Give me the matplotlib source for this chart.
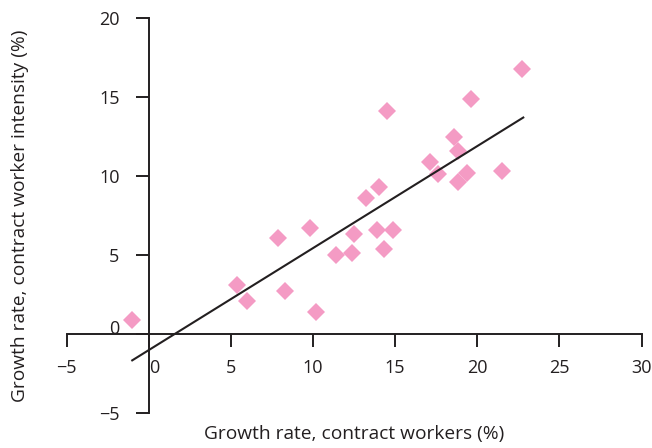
import numpy as np
import matplotlib.pyplot as plt

plt.rcParams['font.family'] = ['Open Sans', 'DejaVu Sans']

# growth rate, contract workers (%)
x_workers = [-1.0, 5.4, 6.0, 7.9, 8.3, 9.8, 10.2, 11.4, 12.4, 12.5, 13.2, 14.0,
             13.9, 14.3, 14.5, 14.9, 17.1, 17.6, 18.6, 18.8, 18.8, 19.4, 19.6,
             21.5, 22.7]
# growth rate, contract worker intensity (%)
y_intensity = [0.9, 3.1, 2.1, 6.1, 2.7, 6.7, 1.4, 5.0, 5.1, 6.3, 8.6, 9.3,
               6.6, 5.4, 14.1, 6.6, 10.9, 10.1, 12.5, 11.6, 9.6, 10.2, 14.9,
               10.3, 16.8]

# fitted line
fit_slope = 0.647
fit_intercept = -1.04
fit_x = [-1.0, 22.8]

x_ticks = [-5, 0, 5, 10, 15, 20, 25, 30]
y_ticks = [-5, 0, 5, 10, 15, 20]

ink = '#231f20'

fig = plt.figure(figsize=(6.52, 4.48), dpi=100)
ax = fig.add_axes([0.102, 0.079, 0.882, 0.880])

ax.plot(x_workers, y_intensity, 'D', color='#f49bc4', markersize=9.2,
        markeredgewidth=0, zorder=2)
fx = np.array(fit_x)
ax.plot(fx, fit_slope * fx + fit_intercept, color=ink, lw=1.5, zorder=3)

ax.set_xlim(-5, 30)
ax.set_ylim(-5, 20)
ax.set_xticks(x_ticks)
ax.set_yticks(y_ticks)
ax.set_xticklabels(['\u22125' if t < 0 else str(t) for t in x_ticks])
ax.set_yticklabels(['\u22125' if t < 0 else str(t) for t in y_ticks])

for s in ['top', 'right']:
    ax.spines[s].set_visible(False)
ax.spines['left'].set_position(('data', 0))
ax.spines['bottom'].set_position(('data', 0))
for s in ['left', 'bottom']:
    ax.spines[s].set_linewidth(1.4)
    ax.spines[s].set_color(ink)

ax.tick_params(direction='out', length=9.5, width=1.4, color=ink,
               labelsize=13, labelcolor=ink)
ax.tick_params(axis='x', pad=9)
ax.tick_params(axis='y', pad=11.5)

# nudge the two zero labels off the axis lines like the original
for lab in ax.get_xticklabels():
    if lab.get_text() == '0':
        lab.set_horizontalalignment('left')
for lab in ax.get_yticklabels():
    if lab.get_text() == '0':
        lab.set_verticalalignment('baseline')

ax.set_xlabel('Growth rate, contract workers (%)', fontsize=13.8, color=ink)
ax.set_ylabel('Growth rate, contract worker intensity (%)', fontsize=13.8,
              color=ink)
ax.xaxis.set_label_coords(0.5, -0.031)
ax.yaxis.set_label_coords(-0.065, 0.5)

fig.savefig('out.png', dpi=100)
